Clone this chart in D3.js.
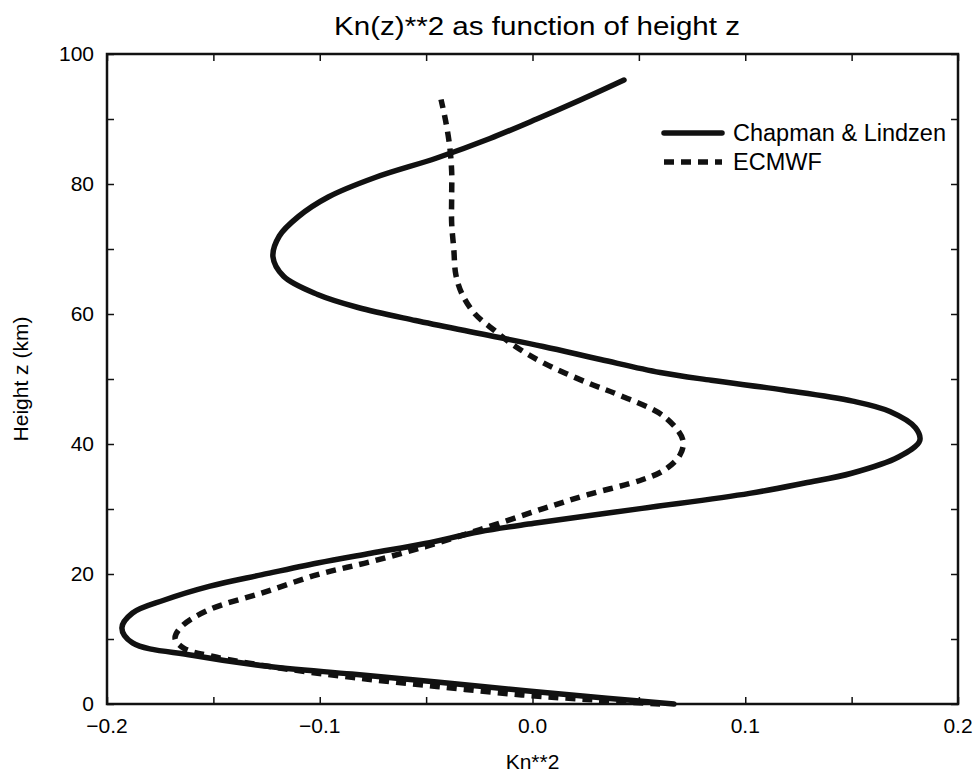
<!DOCTYPE html>
<html>
<head>
<meta charset="utf-8">
<script src="https://cdn.jsdelivr.net/npm/d3@7"></script>
<style>
  html, body { margin: 0; padding: 0; background: #fff; }
  svg { display: block; font-family: "Liberation Sans", Arial, Helvetica, sans-serif; }
  .frame { fill: none; stroke: #111; stroke-width: 2.5; }
  .tick line { stroke: #111; stroke-width: 1.5; }
</style>
</head>
<body>
<div id="chart"></div>
<script>
// Kn**2 profiles: value at height z (km)
var chapmanKn2 = [0.0665, 0.035, -0.002, -0.045, -0.085, -0.127, -0.160, -0.188, -0.193, -0.188,
  -0.173, -0.152, -0.127, -0.101, -0.076, -0.0505, -0.025, 0.0007, 0.0515, 0.102, 0.128, 0.150,
  0.172, 0.182, 0.180, 0.168, 0.1505, 0.118, 0.084, 0.060, 0.032, 0.005, -0.025, -0.055, -0.082,
  -0.101, -0.117, -0.122, -0.119, -0.110, -0.096, -0.074, -0.045, -0.020, 0.002, 0.023, 0.043];
var chapmanZ = [0, 0.9, 2.0, 3.4, 4.6, 5.9, 7.5, 9.4, 11.7, 14,
  16, 18.1, 19.9, 21.7, 23.2, 24.7, 26.5, 27.8, 30.1, 32.4, 34, 35.5,
  38, 40.5, 42.5, 45, 46.6, 48.3, 49.8, 51, 53, 55, 57, 59, 61,
  63, 65.8, 68.8, 72, 75, 78, 81, 84, 87, 90, 93, 96];

var ecmwfKn2 = [0.060, 0.030, -0.005, -0.045, -0.085, -0.120, -0.150, -0.164, -0.168, -0.165,
  -0.152, -0.127, -0.101, -0.076, -0.0505, -0.025, 0.0054, 0.026, 0.0515, 0.062, 0.0693, 0.0707,
  0.062, 0.041, 0.026, 0.005, -0.008, -0.018, -0.027, -0.033, -0.036, -0.037, -0.038, -0.038,
  -0.038, -0.039, -0.041, -0.043];
var ecmwfZ = [0, 0.6, 1.4, 2.7, 4.1, 5.6, 7.3, 8.6, 10.1, 11.9,
  14.5, 17.1, 19.9, 21.9, 24.2, 26.8, 30.1, 32.2, 34.5, 36, 38.3, 40.6,
  44.2, 47.5, 49.4, 52.5, 55, 57.5, 60, 63, 66, 70, 74, 78,
  82, 86, 90, 93];

var xTicks = [-0.2, -0.1, 0.0, 0.1, 0.2];
var yTicks = [0, 20, 40, 60, 80, 100];
var seriesNames = ["Chapman & Lindzen", "ECMWF"];

var width = 977, height = 774;
var margin = {top: 54, right: 19, bottom: 70, left: 107};

var svg = d3.select("#chart").append("svg")
  .attr("width", width)
  .attr("height", height);

var x = d3.scaleLinear().domain([-0.2, 0.2]).range([margin.left, width - margin.right]);
var y = d3.scaleLinear().domain([0, 100]).range([height - margin.bottom, margin.top]);

var minorX = d3.range(-0.2, 0.2001, 0.05);
var minorY = d3.range(0, 100.1, 10);
var tickLen = 7;

// inward ticks on all four sides
var drawTicks = function(axis, sel) {
  sel.call(axis);
  sel.select(".domain").remove();
  sel.selectAll("text").remove();
};
drawTicks(d3.axisBottom(x).tickValues(minorX).tickSizeInner(-tickLen).tickSizeOuter(0),
  svg.append("g").attr("transform", "translate(0," + y(0) + ")"));
drawTicks(d3.axisTop(x).tickValues(minorX).tickSizeInner(-tickLen).tickSizeOuter(0),
  svg.append("g").attr("transform", "translate(0," + y(100) + ")"));
drawTicks(d3.axisLeft(y).tickValues(minorY).tickSizeInner(-tickLen).tickSizeOuter(0),
  svg.append("g").attr("transform", "translate(" + x(-0.2) + ",0)"));
drawTicks(d3.axisRight(y).tickValues(minorY).tickSizeInner(-tickLen).tickSizeOuter(0),
  svg.append("g").attr("transform", "translate(" + x(0.2) + ",0)"));

// tick labels
svg.append("g").selectAll("text")
  .data(xTicks)
  .enter().append("text")
  .attr("x", function(d) { return x(d); })
  .attr("y", y(0) + 29)
  .attr("text-anchor", "middle")
  .style("font-size", "21px")
  .text(function(d) { return d3.format(".1f")(d); });

svg.append("g").selectAll("text")
  .data(yTicks)
  .enter().append("text")
  .attr("x", x(-0.2) - 13)
  .attr("y", function(d) { return y(d) + 7; })
  .attr("text-anchor", "end")
  .style("font-size", "21px")
  .text(function(d) { return d; });

svg.append("rect")
  .attr("class", "frame")
  .attr("x", x(-0.2))
  .attr("y", y(100))
  .attr("width", x(0.2) - x(-0.2))
  .attr("height", y(0) - y(100));

// titles
svg.append("text")
  .attr("x", 537)
  .attr("y", 35)
  .attr("text-anchor", "middle")
  .attr("textLength", 406)
  .attr("lengthAdjust", "spacingAndGlyphs")
  .style("font-size", "25px")
  .text("Kn(z)**2 as function of height z");

svg.append("text")
  .attr("x", (x(-0.2) + x(0.2)) / 2)
  .attr("y", height - 5)
  .attr("text-anchor", "middle")
  .style("font-size", "21px")
  .text("Kn**2");

svg.append("text")
  .attr("transform", "translate(28," + y(50) + ") rotate(-90)")
  .attr("text-anchor", "middle")
  .style("font-size", "21px")
  .text("Height z (km)");

// curves
var line = d3.line()
  .x(function(d) { return x(d[0]); })
  .y(function(d) { return y(d[1]); })
  .curve(d3.curveCatmullRom.alpha(0.5));

var chapman = d3.zip(chapmanKn2, chapmanZ);
var ecmwf = d3.zip(ecmwfKn2, ecmwfZ);

svg.append("path")
  .datum(ecmwf)
  .attr("d", line)
  .attr("fill", "none")
  .attr("stroke", "#111")
  .attr("stroke-width", 5.5)
  .attr("stroke-dasharray", "10,7");

svg.append("path")
  .datum(chapman)
  .attr("d", line)
  .attr("fill", "none")
  .attr("stroke", "#111")
  .attr("stroke-width", 5.5)
  .attr("stroke-linecap", "round");

// legend
var legend = svg.append("g").attr("transform", "translate(664,133)");
var rows = legend.selectAll("g")
  .data(seriesNames)
  .enter().append("g")
  .attr("transform", function(d, i) { return "translate(0," + i * 29 + ")"; });

rows.append("line")
  .attr("x1", 0).attr("x2", 58)
  .attr("stroke", "#111")
  .attr("stroke-width", 5.5)
  .attr("stroke-dasharray", function(d, i) { return i ? "10,7" : null; })
  .attr("stroke-linecap", function(d, i) { return i ? "butt" : "round"; });

rows.append("text")
  .attr("x", 69)
  .attr("y", 8)
  .style("font-size", "23.5px")
  .text(function(d) { return d; });
</script>
</body>
</html>
